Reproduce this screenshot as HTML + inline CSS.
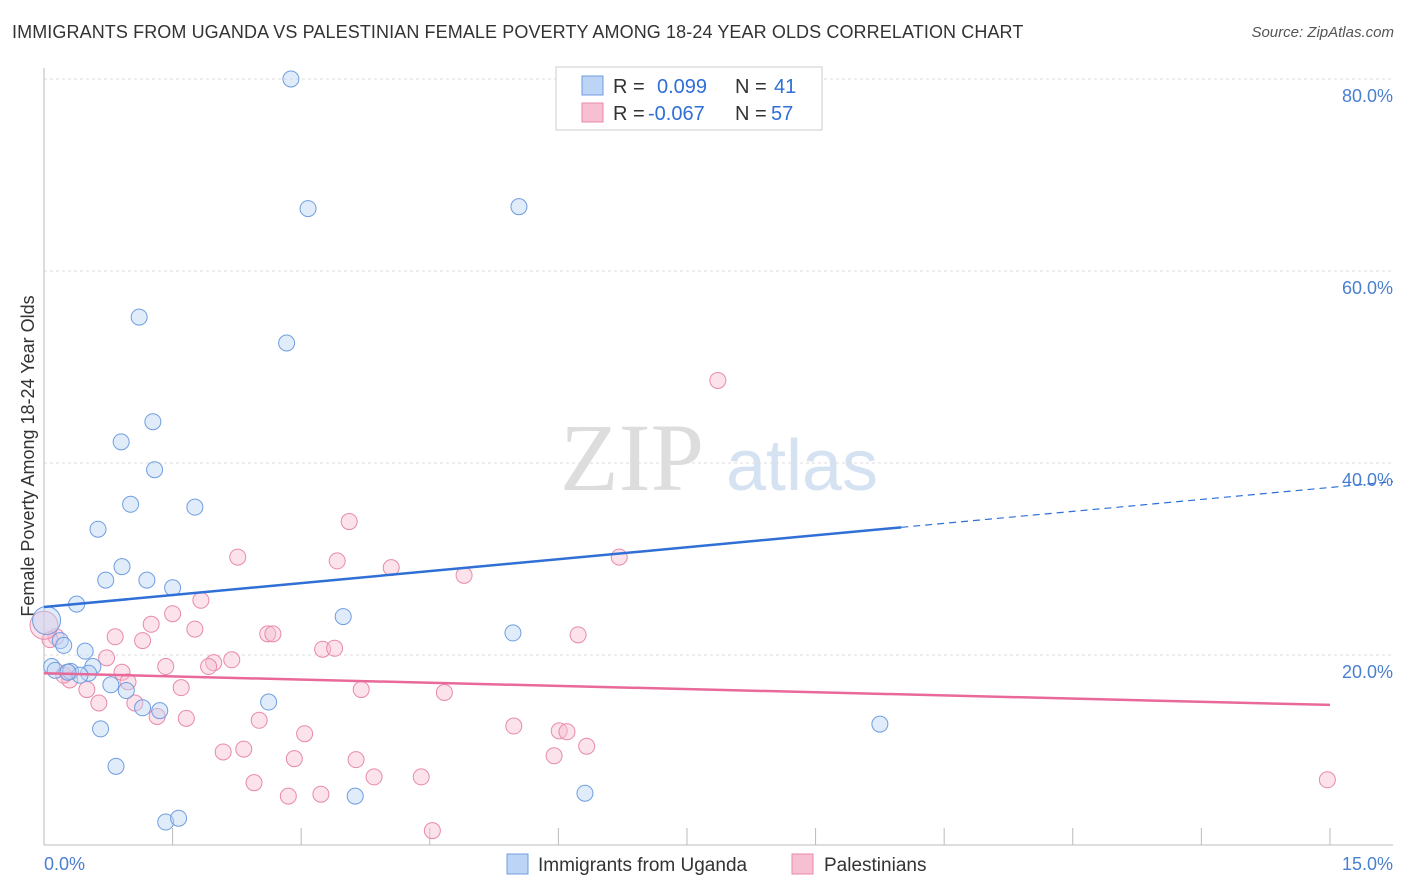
<!DOCTYPE html>
<html><head><meta charset="utf-8">
<style>
body{margin:0;background:#fff;font-family:"Liberation Sans",sans-serif;}
#wrap{position:relative;width:1406px;height:892px;overflow:hidden;}
.title{position:absolute;left:12px;top:22px;font-size:18px;color:#333;letter-spacing:0.1px;}
.source{position:absolute;right:12px;top:24px;font-size:15px;color:#555;font-style:italic;}
</style></head>
<body>
<div id="wrap">
<div class="title">IMMIGRANTS FROM UGANDA VS PALESTINIAN FEMALE POVERTY AMONG 18-24 YEAR OLDS CORRELATION CHART</div>
<div class="source">Source: ZipAtlas.com</div>
<svg id="chart" width="1406" height="892" style="position:absolute;left:0;top:0"></svg>
</div>
<script>
const xTicks=[0,1.5,3,4.5,6,7.5,9,10.5,12,13.5,15];
const yTicks=[20,40,60,80];
const blueX=[2.88,3.08,5.54,1.11,2.83,1.27,0.90,1.29,1.01,1.76,0.63,0.91,0.72,1.20,1.50,0.38,3.49,5.47,0.19,0.23,0.48,0.09,0.13,0.57,0.31,0.52,0.42,0.28,0.78,0.96,2.62,1.15,1.35,0.66,9.75,0.84,3.63,6.31,1.42,1.57,0.03];
const blueY=[80.0,66.5,66.7,55.2,52.5,44.3,42.2,39.3,35.7,35.4,33.1,29.2,27.8,27.8,27.0,25.3,24.0,22.3,21.5,21.0,20.4,18.8,18.4,18.8,18.3,18.1,17.9,18.2,16.9,16.3,15.1,14.5,14.2,12.3,12.8,8.4,5.3,5.6,2.6,3.0,23.6];
const pinkX=[7.86,3.56,2.26,3.42,6.71,4.05,4.90,1.83,1.50,1.25,0.83,1.76,1.15,2.61,2.67,6.23,3.25,3.39,0.14,0.07,0.73,2.19,1.42,1.98,1.92,0.91,0.27,0.30,0.50,0.98,3.70,4.67,1.60,0.64,1.06,1.32,1.66,2.51,3.04,5.48,6.01,6.10,6.33,2.33,2.09,2.92,3.64,5.95,3.85,4.40,2.45,2.85,3.23,4.53,14.97,0.0,0.23];
const pinkY=[48.6,33.9,30.2,29.8,30.2,29.1,28.3,25.7,24.3,23.2,21.9,22.7,21.5,22.2,22.2,22.1,20.6,20.7,21.9,21.6,19.7,19.5,18.8,19.2,18.8,18.2,18.2,17.4,16.4,17.2,16.4,16.1,16.6,15.0,15.0,13.6,13.4,13.2,11.8,12.6,12.1,12.0,10.5,10.2,9.9,9.2,9.1,9.5,7.3,7.3,6.7,5.3,5.5,1.7,7.0,23.1,17.9];
const blueTrend=[25.0,0.83]; // intercept, slope
const pinkTrend=[18.1,-0.22];
const NS="http://www.w3.org/2000/svg";
const svg=document.getElementById('chart');
const X0=44,XS=85.73,Y0=847,YS=9.6;
const sx=v=>X0+v*XS, sy=v=>Y0-v*YS;
function mk(t,a,p){const e=document.createElementNS(NS,t);for(const k in a)e.setAttribute(k,a[k]);(p||svg).appendChild(e);return e;}
// watermark
let w=mk('text',{x:632,y:490,'font-size':96,'font-family':'Liberation Serif,serif',fill:'#ddd','text-anchor':'middle'});w.textContent='ZIP';


w=mk('text',{x:802,y:490,'font-size':72,'font-family':'Liberation Sans,sans-serif',fill:'#d5e2f2','text-anchor':'middle'});w.textContent='atlas';


// grid
yTicks.forEach(v=>{const l=mk('line',{x1:44,x2:1393,y1:sy(v),y2:sy(v),stroke:'#ddd','stroke-dasharray':'3,3'});


const t=mk('text',{x:1393,y:sy(v)+23,'font-size':18,fill:'#4a7fd0','text-anchor':'end'});t.textContent=v.toFixed(1)+'%';

});
// axes
let ax=mk('line',{x1:44,x2:1393,y1:845,y2:845,stroke:'#bbb'});


ax=mk('line',{x1:44,x2:44,y1:68,y2:845,stroke:'#bbb'});


xTicks.forEach(v=>{const l=mk('line',{x1:sx(v),x2:sx(v),y1:828,y2:845,stroke:'#bbb'});

});
let t=mk('text',{x:44,y:870,'font-size':18,fill:'#4a7fd0'});t.textContent='0.0%';


t=mk('text',{x:1393,y:870,'font-size':18,fill:'#4a7fd0','text-anchor':'end'});t.textContent='15.0%';


t=mk('text',{x:34,y:456,'font-size':18,fill:'#333','text-anchor':'middle',transform:'rotate(-90 34 456)'});t.textContent='Female Poverty Among 18-24 Year Olds';


// points
function pts(xs,ys,fill,stroke,name){xs.forEach((x,i)=>{const big=(x<0.05);const c=mk('circle',{cx:sx(x),cy:sy(ys[i]),r:big?14:8,fill:fill,'fill-opacity':0.45,stroke:stroke,'stroke-width':1});

});}
pts(pinkX,pinkY,'#f7bfd2','#e88aab','pink-point');
pts(blueX,blueY,'#bcd4f5','#6f9ee0','blue-point');
// trends
let L=mk('line',{x1:sx(0),y1:sy(blueTrend[0]),x2:sx(10),y2:sy(blueTrend[0]+blueTrend[1]*10),stroke:'#2f6fd6','stroke-width':2.5});


L=mk('line',{x1:sx(10),y1:sy(blueTrend[0]+blueTrend[1]*10),x2:1393,y2:sy(blueTrend[0]+blueTrend[1]*(1393-X0)/XS),stroke:'#2f6fd6','stroke-width':1.2,'stroke-dasharray':'7,5'});


L=mk('line',{x1:sx(0),y1:sy(pinkTrend[0]),x2:sx(15),y2:sy(pinkTrend[0]+pinkTrend[1]*15),stroke:'#e8699a','stroke-width':2.5});


// legend
let g=mk('g',{});


mk('rect',{x:556,y:67,width:266,height:63,fill:'#fff',stroke:'#ccc'},g);
mk('rect',{x:582,y:76,width:21,height:19,fill:'#bcd4f5',stroke:'#6f9ee0'},g);
mk('rect',{x:582,y:103,width:21,height:19,fill:'#f7bfd2',stroke:'#e88aab'},g);
function lt(x,y,s,c){const e=mk('text',{x:x,y:y,'font-size':20,fill:c},g);e.textContent=s;return e;}
lt(613,93,'R =','#333');lt(657,93,'0.099','#2f6fd6');lt(735,93,'N =','#333');lt(774,93,'41','#2f6fd6');
lt(613,120,'R =','#333');lt(648,120,'-0.067','#2f6fd6');lt(735,120,'N =','#333');lt(771,120,'57','#2f6fd6');
// bottom legend
let b=mk('rect',{x:507,y:854,width:21,height:20,fill:'#bcd4f5',stroke:'#6f9ee0'});


t=mk('text',{x:538,y:871,'font-size':19,fill:'#333'});t.textContent='Immigrants from Uganda';


b=mk('rect',{x:792,y:854,width:21,height:20,fill:'#f7bfd2',stroke:'#e88aab'});


t=mk('text',{x:824,y:871,'font-size':19,fill:'#333'});t.textContent='Palestinians';


</script>
</body></html>
